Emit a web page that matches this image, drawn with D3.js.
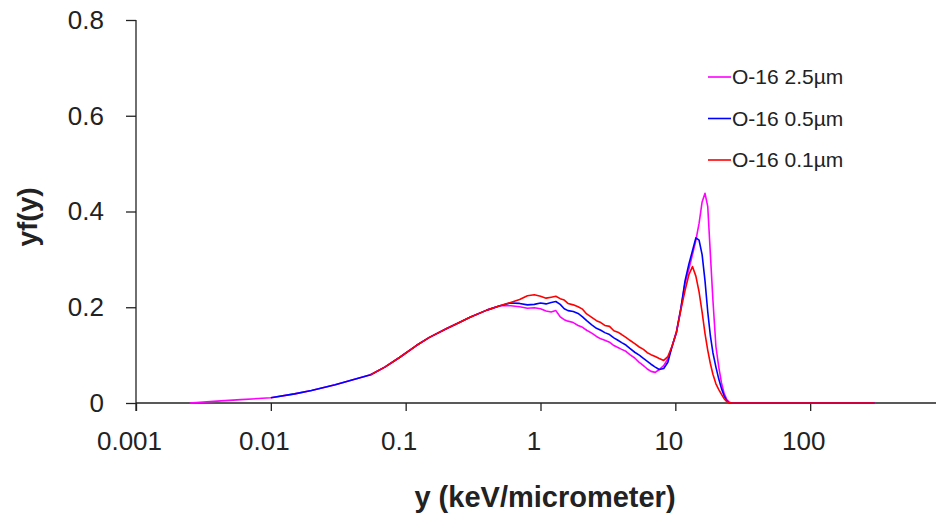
<!DOCTYPE html>
<html><head><meta charset="utf-8">
<script src="https://cdn.jsdelivr.net/npm/d3@7"></script>
<style>
body{margin:0;background:#fff}
svg{display:block;font-family:"Liberation Sans",Arial,sans-serif}
</style>
</head><body><svg id="c" width="936" height="521"></svg>
<script>
// ---- data ----
const xValues = [
  0.0025, 0.004, 0.006, 0.01, 0.015, 0.02, 0.03, 0.04, 0.055, 0.07,
  0.09, 0.12, 0.15, 0.2, 0.25, 0.3, 0.4, 0.5, 0.6, 0.7,
  0.8, 0.9, 1.0, 1.1, 1.2, 1.3, 1.4, 1.5, 1.6, 1.75,
  1.9, 2.05, 2.2, 2.4, 2.6, 2.8, 3.0, 3.25, 3.5, 3.75,
  4.0, 4.3, 4.6, 5.0, 5.4, 5.8, 6.2, 6.6, 7.1, 7.6,
  8.2, 8.8, 9.5, 10.2, 11, 11.8, 12.6, 13.4, 14.2, 15,
  15.8, 16.6, 17.4, 18.2, 19, 20, 21, 22, 23, 24,
  25, 26, 30, 60, 120, 300
];
const o16_2_5um = [
  0, 0.004, 0.007, 0.011, 0.019, 0.026, 0.038, 0.048, 0.059, 0.075,
  0.095, 0.12, 0.137, 0.155, 0.168, 0.179, 0.194, 0.203,
  0.203, 0.201, 0.198, 0.199, 0.197, 0.192, 0.19, 0.193, 0.18, 0.174,
  0.171, 0.168, 0.162, 0.158, 0.152, 0.146, 0.139, 0.134, 0.131, 0.127,
  0.12, 0.116, 0.112, 0.108, 0.101, 0.094, 0.085, 0.078, 0.071, 0.066,
  0.064, 0.07, 0.078, 0.092, 0.12, 0.15, 0.198, 0.25, 0.28, 0.31,
  0.34, 0.375, 0.42, 0.438, 0.41, 0.31, 0.215, 0.118, 0.075, 0.042,
  0.02, 0.008, 0.002, 0, 0, 0, 0, 0
];
const o16_0_5um = [
  null, null, null, 0.011, 0.019, 0.026, 0.038, 0.048, 0.059, 0.075,
  0.095, 0.12, 0.137, 0.155, 0.168, 0.179, 0.194, 0.203,
  0.209, 0.208, 0.205, 0.206, 0.209, 0.207, 0.21, 0.212, 0.206, 0.197,
  0.193, 0.191, 0.187, 0.18, 0.172, 0.163, 0.156, 0.152, 0.147, 0.143,
  0.136, 0.131, 0.126, 0.121, 0.114, 0.106, 0.1, 0.093, 0.087, 0.081,
  0.075, 0.07, 0.072, 0.085, 0.12, 0.148, 0.198, 0.255, 0.29, 0.318,
  0.345, 0.34, 0.31, 0.255, 0.19, 0.14, 0.105, 0.075, 0.05, 0.03,
  0.015, 0.005, 0.001, 0, 0, 0, 0, 0
];
const o16_0_1um = [
  null, null, null, null, null, null, null, null, 0.059, 0.075,
  0.095, 0.12, 0.137, 0.155, 0.168, 0.179, 0.194, 0.203,
  0.210, 0.216, 0.224, 0.226, 0.223, 0.219, 0.221, 0.223, 0.218, 0.215,
  0.208, 0.205, 0.201, 0.196, 0.186, 0.179, 0.172, 0.168, 0.162, 0.160,
  0.151, 0.148, 0.143, 0.137, 0.131, 0.124, 0.117, 0.112, 0.105, 0.101,
  0.097, 0.093, 0.089, 0.097, 0.12, 0.148, 0.195, 0.235, 0.268, 0.285,
  0.265, 0.232, 0.19, 0.145, 0.11, 0.082, 0.06, 0.04, 0.028, 0.018,
  0.009, 0.003, 0.001, 0, 0, 0, 0, 0
];
const seriesNames = ["O-16 2.5\u00b5m", "O-16 0.5\u00b5m", "O-16 0.1\u00b5m"];
const seriesColors = ["#ff00ff", "#0000ff", "#ff0000"];
const xTickValues = [0.001, 0.01, 0.1, 1, 10, 100];
const xTickLabels = ["0.001", "0.01", "0.1", "1", "10", "100"];
const yTickValues = [0, 0.2, 0.4, 0.6, 0.8];
const yTickLabels = ["0", "0.2", "0.4", "0.6", "0.8"];

// ---- chart ----
const svg = d3.select("#c");
const x = d3.scaleLog().domain([0.001, 1000]).range([136, 945]);
const y = d3.scaleLinear().domain([0, 0.8]).range([403, 20]);
const ink = "#222";

// y axis
const yAx = svg.append("g").attr("transform", "translate(136,0)")
  .call(d3.axisLeft(y).tickValues(yTickValues).tickSize(10)
    .tickFormat((d, i) => yTickLabels[i]));
yAx.select(".domain").remove();
yAx.selectAll(".tick line").attr("stroke", ink).attr("stroke-width", 1.3);
yAx.selectAll(".tick text").attr("x", -32).attr("fill", ink)
  .attr("font-size", 26).attr("font-family", "Liberation Sans, Arial, sans-serif");
svg.append("line").attr("x1", 136).attr("x2", 136).attr("y1", y(0.8)).attr("y2", y(0) + 8)
  .attr("stroke", ink).attr("stroke-width", 1.3);

// x axis
const xAx = svg.append("g").attr("transform", "translate(0,403)")
  .call(d3.axisBottom(x).tickValues(xTickValues).tickSize(8)
    .tickFormat((d, i) => xTickLabels[i]));
xAx.select(".domain").remove();
xAx.selectAll(".tick line").attr("stroke", ink).attr("stroke-width", 1.3);
xAx.selectAll(".tick text").attr("y", 29).attr("dx", -7).attr("fill", ink)
  .attr("font-size", 26).attr("font-family", "Liberation Sans, Arial, sans-serif");
svg.append("line").attr("x1", 136).attr("x2", 945).attr("y1", 403).attr("y2", 403)
  .attr("stroke", ink).attr("stroke-width", 1.3);

// lines
const allSeries = [o16_2_5um, o16_0_5um, o16_0_1um];
const line = d3.line()
  .defined(d => d[1] !== null)
  .x(d => x(d[0])).y(d => y(d[1]));
allSeries.forEach((vals, i) => {
  svg.append("path")
    .datum(xValues.map((xv, j) => [xv, vals[j]]))
    .attr("fill", "none").attr("stroke", seriesColors[i])
    .attr("stroke-width", 1.6).attr("stroke-linejoin", "round")
    .attr("d", line);
});

// legend
const legendY = [77, 118.5, 160];
seriesNames.forEach((name, i) => {
  const g = svg.append("g");
  g.append("line").attr("x1", 708).attr("x2", 731)
    .attr("y1", legendY[i]).attr("y2", legendY[i])
    .attr("stroke", seriesColors[i]).attr("stroke-width", 1.6);
  g.append("text").attr("x", 732).attr("y", legendY[i]).attr("dy", "0.35em")
    .attr("font-size", 21).attr("fill", ink).text(name);
});

// titles
svg.append("text").attr("x", 545).attr("y", 507).attr("text-anchor", "middle")
  .attr("font-size", 29).attr("font-weight", "bold").attr("fill", ink)
  .text("y (keV/micrometer)");
svg.append("text").attr("transform", "translate(37,217) rotate(-90)")
  .attr("text-anchor", "middle").attr("font-size", 28).attr("font-weight", "bold")
  .attr("fill", ink).text("yf(y)");
</script></body></html>
